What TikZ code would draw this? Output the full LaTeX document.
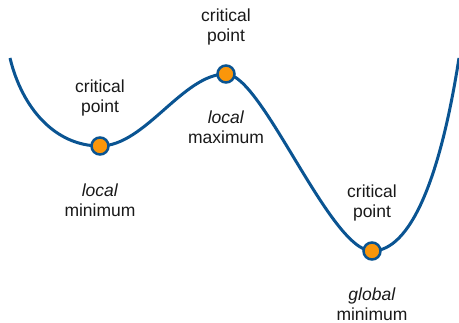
\documentclass[tikz,border=0pt]{standalone}
\usepackage{fontspec}
\setmainfont{Liberation Sans}
\definecolor{curveblue}{RGB}{10,84,146}
\definecolor{dotorange}{RGB}{250,150,10}
\begin{document}
\begin{tikzpicture}[x=1pt,y=-1pt,
  curve/.style={draw=curveblue,line width=3pt},
  crit/.style={circle,draw=curveblue,fill=dotorange,line width=2.5pt,minimum size=17pt,inner sep=0pt},
  lbl/.style={align=center,font=\fontsize{17.5}{20.5}\selectfont,text=black!90,inner sep=0pt}]
\useasboundingbox (0,0) rectangle (459,323);
\coordinate (s) at (10,58);
\coordinate (m1) at (100,146);
\coordinate (mx) at (226,74);
\coordinate (m2) at (372,251);
\coordinate (e) at (459,58);
\draw[curve] (s) .. controls (22,108) and (55,146) .. (m1)
  .. controls (145,146) and (183,74) .. (mx)
  .. controls (262,74) and (330,251) .. (m2)
  .. controls (410,251) and (440,180) .. (e);
\node[crit] (c1) at (m1) {};
\node[crit] (c2) at (mx) {};
\node[crit] (c3) at (m2) {};
\node[lbl] (t1) at (100,98) {critical\\point};
\node[lbl] (t2) at (226,27) {critical\\point};
\node[lbl] (t3) at (372,203) {critical\\point};
\node[lbl] (b1) at (100,200) {\textit{local}\\minimum};
\node[lbl] (b2) at (226,127) {\textit{local}\\maximum};
\node[lbl] (b3) at (372,304) {\textit{global}\\minimum};
\end{tikzpicture}
\end{document}
